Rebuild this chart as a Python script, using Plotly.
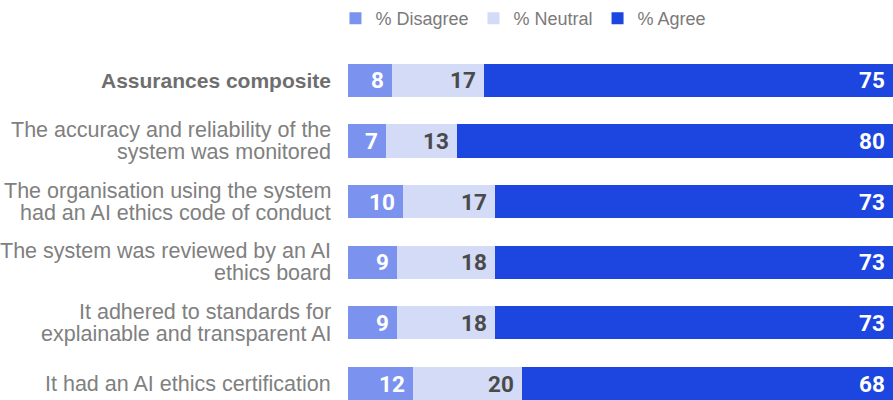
import plotly.graph_objects as go

# Survey statements (top to bottom); "<br>" marks a line break
statements = [
    "Assurances composite",
    "The accuracy and reliability of the<br>system was monitored",
    "The organisation using the system<br>had an AI ethics code of conduct",
    "The system was reviewed by an AI<br>ethics board",
    "It adhered to standards for<br>explainable and transparent AI",
    "It had an AI ethics certification",
]
disagree = [8, 7, 10, 9, 9, 12]
neutral = [17, 13, 17, 18, 18, 20]
agree = [75, 80, 73, 73, 73, 68]

series_names = ["% Disagree", "% Neutral", "% Agree"]
colors = ["#7b93ee", "#d3dbf7", "#1d45e0"]
value_colors = ["#ffffff", "#4a4a4a", "#ffffff"]

rows = list(range(len(statements)))
LABEL_FONT = dict(family="Liberation Sans", size=21.5, color="#808080")
LINE_STEP = 22  # px between wrapped label lines

fig = go.Figure()
for name, vals, col in zip(series_names, [disagree, neutral, agree], colors):
    fig.add_trace(go.Bar(
        y=rows, x=vals, name=name, orientation="h",
        marker=dict(color=col, line=dict(width=0)),
        width=0.545, hoverinfo="skip",
    ))

annotations = []

# Value labels, right-aligned at the end of each segment
for i in rows:
    ends = [disagree[i], disagree[i] + neutral[i], disagree[i] + neutral[i] + agree[i]]
    for val, end, tc in zip([disagree[i], neutral[i], agree[i]], ends, value_colors):
        annotations.append(dict(
            x=end, y=i, xref="x", yref="y", text=f"<b>{val}</b>",
            showarrow=False, xanchor="right", yanchor="middle", xshift=-6,
            font=dict(family="Roboto", size=22.5, color=tc),
        ))

# Category labels, right-aligned to the left of the bars, with tight line spacing
for i, label in enumerate(statements):
    lines = label.split("<br>")
    n = len(lines)
    for k, line in enumerate(lines):
        txt = f"<b>{line}</b>" if i == 0 else line
        font = dict(LABEL_FONT)
        if i == 0:
            font["color"] = "#6e6e6e"
            font["size"] = 21
        annotations.append(dict(
            x=0, y=i, xref="paper", yref="y", text=txt,
            showarrow=False, xanchor="right", yanchor="middle",
            xshift=-15, yshift=((n - 1) / 2 - k) * LINE_STEP,
            font=font,
        ))

fig.update_layout(
    barmode="stack",
    width=893, height=400,
    margin=dict(l=348, r=0, t=50, b=0),
    paper_bgcolor="white", plot_bgcolor="white",
    showlegend=True,
    legend=dict(
        orientation="h", x=-0.023, xanchor="left", y=1.091, yanchor="middle",
        font=dict(family="Liberation Sans", size=18, color="#7a7a7a"),
        traceorder="normal", itemclick=False, itemdoubleclick=False,
    ),
    annotations=annotations,
    xaxis=dict(range=[0, 100], visible=False, fixedrange=True),
    yaxis=dict(
        range=[5.27, -0.5], showticklabels=False,
        showgrid=False, zeroline=False, showline=False, ticks="",
        fixedrange=True,
    ),
    bargap=0,
)

fig.write_html("out.html", config={"displayModeBar": False})
